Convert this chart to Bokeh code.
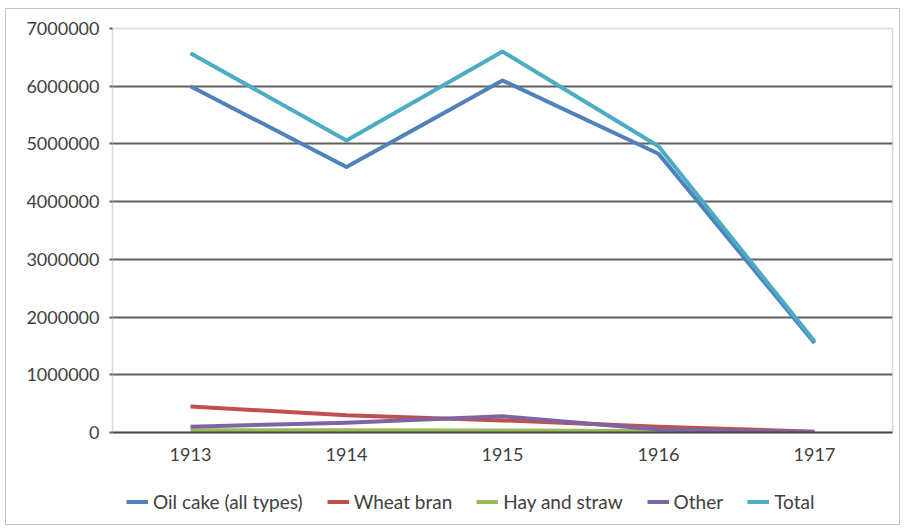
from bokeh.plotting import figure
from bokeh.layouts import column
from bokeh.models import Range1d, FactorRange, SingleIntervalTicker, NumeralTickFormatter, Legend, LegendItem, ColumnDataSource
from bokeh.embed import file_html
from bokeh.resources import INLINE

years = ["1913", "1914", "1915", "1916", "1917"]
oil_cake = [6000000, 4600000, 6100000, 4830000, 1550000]
wheat_bran = [450000, 300000, 210000, 100000, 15000]
hay_straw = [40000, 40000, 35000, 25000, 5000]
other = [100000, 170000, 280000, 50000, 10000]
total = [6570000, 5060000, 6600000, 4960000, 1580000]

series = [
    ("Oil cake (all types)", oil_cake, "#4F81BD"),
    ("Wheat bran", wheat_bran, "#C0504D"),
    ("Hay and straw", hay_straw, "#9BBB59"),
    ("Other", other, "#8064A2"),
    ("Total", total, "#4BACC6"),
]

FONT = "Lato"
TXT = "#404040"

xr = FactorRange(*years, range_padding=0)
p = figure(frame_width=780, frame_height=404, x_range=xr,
           y_range=Range1d(0, 7000000), output_backend="svg", toolbar_location=None,
           min_border_left=106, min_border_right=7, min_border_top=19, min_border_bottom=40)
p.outline_line_color = "#d9d9d9"
p.outline_line_width = 1.5

p.yaxis.ticker = SingleIntervalTicker(interval=1000000)
p.yaxis.formatter = NumeralTickFormatter(format="0")
p.yaxis.axis_line_color = None
p.yaxis.major_tick_in = 0
p.yaxis.major_tick_out = 3
p.yaxis.major_tick_line_color = "#606060"
p.yaxis.major_tick_line_width = 2
p.yaxis.minor_tick_line_color = None
p.yaxis.major_label_standoff = 9
p.yaxis.major_label_text_font = FONT
p.yaxis.major_label_text_font_size = "18px"
p.yaxis.major_label_text_color = TXT

p.xaxis.axis_line_color = "#454545"
p.xaxis.axis_line_width = 2
p.xaxis.major_tick_line_color = None
p.xaxis.minor_tick_line_color = None
p.xaxis.major_label_standoff = 9
p.xaxis.major_label_text_font = FONT
p.xaxis.major_label_text_font_size = "18px"
p.xaxis.major_label_text_color = TXT

p.xgrid.grid_line_color = None
p.ygrid.grid_line_color = "#606060"
p.ygrid.grid_line_width = 2

for name, vals, color in series:
    src = ColumnDataSource(dict(x=years, y=vals))
    p.line("x", "y", source=src, line_color=color, line_width=4, line_join="round")

# legend strip below the chart (its sample lines use the same data, kept out of view)
lg = figure(width=893, height=52, x_range=xr, y_range=Range1d(-2, -1),
            output_backend="svg", toolbar_location=None,
            x_axis_location=None, y_axis_location=None,
            min_border_left=0, min_border_right=0, min_border_top=0, min_border_bottom=0)
lg.outline_line_color = None
lg.xgrid.grid_line_color = None
lg.ygrid.grid_line_color = None
items = []
for name, vals, color in series:
    src = ColumnDataSource(dict(x=years, y=vals))
    r = lg.line("x", "y", source=src, line_color=color, line_width=4)
    items.append(LegendItem(label=name, renderers=[r]))

legend = Legend(items=items, orientation="horizontal", location=(14, 11),
                label_text_font=FONT, label_text_font_size="19px", label_text_color=TXT,
                glyph_width=22, glyph_height=19, label_height=19, label_standoff=5, spacing=24,
                border_line_color=None, background_fill_alpha=0, padding=0, margin=0)
lg.add_layout(legend, "center")

layout = column(p, lg, spacing=0)
layout.styles = {"border": "1px solid #c4c4c4", "margin": "8px 0 0 5px"}

open("out.html", "w").write(file_html(layout, INLINE))
